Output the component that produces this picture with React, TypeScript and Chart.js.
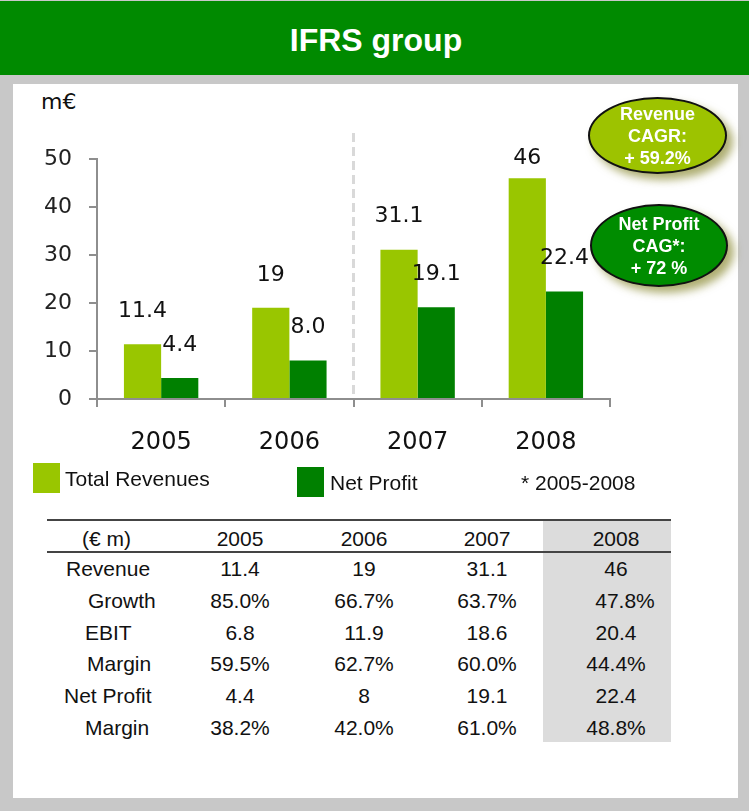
import React, { useEffect, useRef } from "react";
import { Chart, registerables } from "chart.js";

Chart.register(...registerables);

const categories = ["2005", "2006", "2007", "2008"];
const revenue = [11.4, 19, 31.1, 46];
const netProfit = [4.4, 8.0, 19.1, 22.4];
const yMin = 0;
const yMax = 50;
const yStep = 10;

const seriesNames = ["Total Revenues", "Net Profit"];
const footnote = "* 2005-2008";

const tableHeader = ["(€ m)", "2005", "2006", "2007", "2008"];
const rowLabels = ["Revenue", "Growth", "EBIT", "Margin", "Net Profit", "Margin"];
const revenueRow = ["11.4", "19", "31.1", "46"];
const growthRow = ["85.0%", "66.7%", "63.7%", "47.8%"];
const ebitRow = ["6.8", "11.9", "18.6", "20.4"];
const ebitMarginRow = ["59.5%", "62.7%", "60.0%", "44.4%"];
const netProfitRow = ["4.4", "8", "19.1", "22.4"];
const netMarginRow = ["38.2%", "42.0%", "61.0%", "48.8%"];

const LIGHT = "#99c600";
const DARK = "#008000";
const CHART_FONT = "'DejaVu Sans', sans-serif";
const TABLE_FONT = "'Liberation Sans', Arial, sans-serif";

const labelPlugin = {
  id: "valueLabels",
  afterDatasetsDraw(chart: any) {
    const { ctx, chartArea } = chart;
    ctx.save();
    ctx.font = `22px ${CHART_FONT}`;
    ctx.fillStyle = "#111";
    ctx.textAlign = "center";
    ctx.textBaseline = "middle";
    chart.data.datasets.forEach((ds: any, di: number) => {
      const meta = chart.getDatasetMeta(di);
      meta.data.forEach((el: any, i: number) => {
        const v = ds.data[i];
        const txt = di === 0 ? String(v) : v.toFixed(1);
        const y = Math.max(el.y - 33, chartArea.top - 1);
        ctx.fillText(txt, el.x, y);
      });
    });
    ctx.restore();
  },
};

const dividerPlugin = {
  id: "divider",
  beforeDatasetsDraw(chart: any) {
    const { ctx, chartArea, scales } = chart;
    const xs = scales.x;
    const x = (xs.getPixelForValue(1) + xs.getPixelForValue(2)) / 2;
    ctx.save();
    ctx.strokeStyle = "#d9d9d9";
    ctx.lineWidth = 3;
    ctx.setLineDash([9, 5]);
    ctx.beginPath();
    ctx.moveTo(x, chartArea.top - 26);
    ctx.lineTo(x, chartArea.bottom - 4);
    ctx.stroke();
    ctx.restore();
  },
};

function BarChart() {
  const ref = useRef<HTMLCanvasElement | null>(null);
  useEffect(() => {
    if (!ref.current) return;
    const chart = new Chart(ref.current, {
      type: "bar",
      data: {
        labels: categories,
        datasets: [
          { label: seriesNames[0], data: revenue, backgroundColor: LIGHT, categoryPercentage: 0.58, barPercentage: 1 },
          { label: seriesNames[1], data: netProfit, backgroundColor: DARK, categoryPercentage: 0.58, barPercentage: 1 },
        ],
      },
      options: {
        animation: false,
        responsive: false,
        devicePixelRatio: 1,
        layout: { padding: { top: 39, right: 30, left: 0, bottom: 0 } },
        plugins: { legend: { display: false }, tooltip: { enabled: false } },
        scales: {
          x: {
            grid: { display: true, drawOnChartArea: false, drawTicks: true, tickLength: 8, color: "#8e8e8e", lineWidth: 2 },
            border: { display: true, color: "#8e8e8e", width: 2 },
            ticks: { color: "#111", font: { family: CHART_FONT, size: 24 }, padding: 21 },
            afterFit(scale: any) { scale.height = 66; },
          },
          y: {
            min: yMin,
            max: yMax,
            grid: { display: true, drawOnChartArea: false, drawTicks: true, tickLength: 8, color: "#8e8e8e", lineWidth: 2 },
            border: { display: true, color: "#8e8e8e", width: 2 },
            ticks: { stepSize: yStep, color: "#222", font: { family: CHART_FONT, size: 22 }, padding: 17 },
            afterFit(scale: any) { scale.width = 77; },
          },
        },
      },
      plugins: [labelPlugin, dividerPlugin],
    } as any);
    return () => chart.destroy();
  }, []);
  return <canvas ref={ref} width={620} height={345} style={{ width: 620, height: 345, display: "block" }} />;
}

function Txt(props: { x: number; y: number; children: any; align?: "center" | "left"; style?: any }) {
  const { x, y, align = "center", style } = props;
  return (
    <div
      style={{
        position: "absolute",
        left: x,
        top: y,
        transform: align === "center" ? "translate(-50%, -50%)" : "translate(0, -50%)",
        whiteSpace: "nowrap",
        lineHeight: 1,
        ...style,
      }}
    >
      {props.children}
    </div>
  );
}

function Bubble(props: { x: number; y: number; w: number; h: number; bg: string; lines: string[] }) {
  const { x, y, w, h, bg, lines } = props;
  return (
    <div
      style={{
        position: "absolute",
        left: x,
        top: y,
        width: w,
        height: h,
        boxSizing: "border-box",
        borderRadius: "50%",
        border: "2px solid #111",
        background: bg,
        boxShadow: "6px 6px 9px rgba(120,120,20,0.6)",
        display: "flex",
        flexDirection: "column",
        alignItems: "center",
        justifyContent: "center",
        color: "#fff",
        fontFamily: TABLE_FONT,
        fontWeight: "bold",
        fontSize: 18,
        lineHeight: "22px",
      }}
    >
      {lines.map((l, i) => (
        <div key={i}>{l}</div>
      ))}
    </div>
  );
}

export default function App() {
  const colCenters = [240, 364, 487, 616];
  const rowYs = [568, 600, 632, 663, 695, 727];
  const labelLefts = [66, 88, 85, 87, 64, 85];
  const rows = [revenueRow, growthRow, ebitRow, ebitMarginRow, netProfitRow, netMarginRow];
  const tf = { fontFamily: TABLE_FONT, fontSize: 21, color: "#111" };
  return (
    <div style={{ position: "absolute", left: 0, top: 0, width: 749, height: 811, background: "#c8c8c8", overflow: "hidden" }}>
      <div style={{ position: "absolute", left: 0, top: 1, width: 749, height: 74, background: "#008a00" }} />
      <Txt x={376} y={40} style={{ color: "#fff", fontFamily: TABLE_FONT, fontWeight: "bold", fontSize: 32 }}>IFRS group</Txt>
      <div style={{ position: "absolute", left: 13, top: 84, width: 725, height: 714, background: "#fff" }} />

      <Txt x={41} y={102} align="left" style={{ fontFamily: CHART_FONT, fontSize: 22, color: "#111" }}>m€</Txt>

      <div style={{ position: "absolute", left: 20, top: 120 }}>
        <BarChart />
      </div>

      <Bubble x={588} y={97} w={139} h={77} bg="#9dc300" lines={["Revenue", "CAGR:", "+ 59.2%"]} />
      <Bubble x={590} y={204} w={138} h={83} bg="#008c00" lines={["Net Profit", "CAG*:", "+ 72 %"]} />

      <div style={{ position: "absolute", left: 33, top: 463, width: 27, height: 30, background: LIGHT }} />
      <Txt x={65} y={478} align="left" style={tf}>{seriesNames[0]}</Txt>
      <div style={{ position: "absolute", left: 297, top: 467, width: 27, height: 30, background: DARK }} />
      <Txt x={330} y={482} align="left" style={tf}>{seriesNames[1]}</Txt>
      <Txt x={521} y={482} align="left" style={tf}>{footnote}</Txt>

      <div style={{ position: "absolute", left: 543, top: 521, width: 128, height: 221, background: "#dcdcdc" }} />
      <div style={{ position: "absolute", left: 47, top: 519, width: 624, height: 2, background: "#444" }} />
      <div style={{ position: "absolute", left: 47, top: 551, width: 624, height: 2, background: "#444" }} />
      <Txt x={82} y={538} align="left" style={tf}>{tableHeader[0]}</Txt>
      {tableHeader.slice(1).map((h, i) => (
        <Txt key={"h" + i} x={colCenters[i]} y={538} style={tf}>{h}</Txt>
      ))}
      {rowLabels.map((l, r) => (
        <Txt key={"l" + r} x={labelLefts[r]} y={rowYs[r]} align="left" style={tf}>{l}</Txt>
      ))}
      {rows.map((row, r) =>
        row.map((v, c) => (
          <Txt key={r + "-" + c} x={colCenters[c] + (r === 1 && c === 3 ? 9 : 0)} y={rowYs[r]} style={tf}>{v}</Txt>
        ))
      )}
    </div>
  );
}
